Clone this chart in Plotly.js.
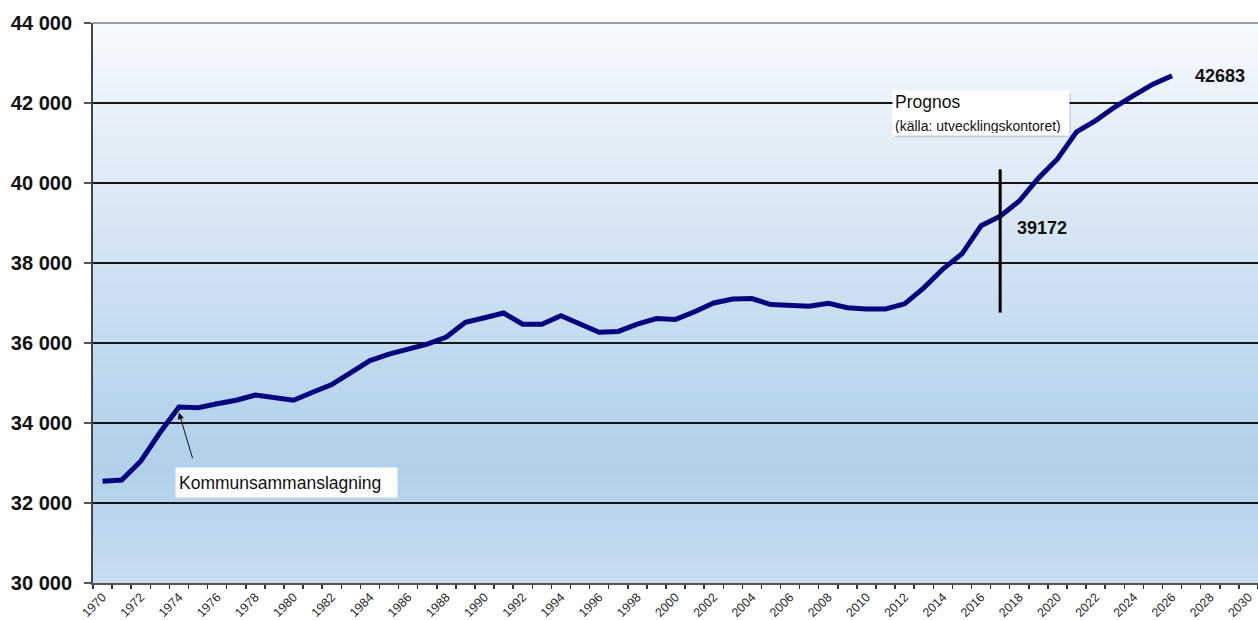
<!DOCTYPE html>
<html>
<head>
<meta charset="utf-8">
<script src="https://cdn.plot.ly/plotly-3.0.1.min.js"></script>
<style>
html,body{margin:0;padding:0;background:#fff;}
#chart{width:1258px;height:620px;}
</style>
</head>
<body>
<div id="chart"></div>
<script>
// ---- data ----
const years = [1970,1971,1972,1973,1974,1975,1976,1977,1978,1979,
               1980,1981,1982,1983,1984,1985,1986,1987,1988,1989,
               1990,1991,1992,1993,1994,1995,1996,1997,1998,1999,
               2000,2001,2002,2003,2004,2005,2006,2007,2008,2009,
               2010,2011,2012,2013,2014,2015,2016,2017,2018,2019,
               2020,2021,2022,2023,2024,2025,2026];
const population = [32545,32575,33045,33755,34400,34380,34480,34570,34700,34640,
                    34570,34770,34960,35260,35560,35720,35850,35970,36150,36520,
                    36630,36750,36470,36470,36680,36470,36270,36290,36470,36610,
                    36590,36780,37000,37100,37110,36960,36950,36920,36990,36880,
                    36850,36850,36980,37380,37850,38230,38930,39172,39550,40120,
                    40600,41280,41560,41900,42190,42470,42683];
const xTickYears = [];
for (let y = 1970; y <= 2030; y += 2) xTickYears.push(y);
const yTicks = [30000,32000,34000,36000,38000,40000,42000,44000];
const yTickText = ["30 000","32 000","34 000","36 000","38 000","40 000","42 000","44 000"];
const splitYear = 2017;
const splitValue = 39172;
const lastYear = 2026;
const lastValue = 42683;
const mergeYear = 1974;
const mergeLabel = "Kommunsammanslagning";
const prognosTitle = "Prognos";
const prognosSource = "(källa: utvecklingskontoret)";

// ---- background gradient as horizontal bands ----
const stops = [
  [0.000, [200,221,241]],
  [0.202, [178,208,234]],
  [0.327, [185,213,237]],
  [0.506, [203,223,241]],
  [0.685, [219,232,245]],
  [0.864, [234,242,250]],
  [1.000, [247,250,253]]
];
function colAt(p){
  for (let i=0;i<stops.length-1;i++){
    const a=stops[i], b=stops[i+1];
    if (p>=a[0] && p<=b[0]){
      const t=(p-a[0])/(b[0]-a[0]);
      const c=a[1].map((v,k)=>Math.round(v+(b[1][k]-v)*t));
      return 'rgb('+c.join(',')+')';
    }
  }
  return 'rgb('+stops[stops.length-1][1].join(',')+')';
}
const shapes = [];
const N = 140;
for (let i=0;i<N;i++){
  const y0=i/N, y1=(i+1)/N + 0.002;
  shapes.push({type:'rect', xref:'paper', yref:'paper', x0:0, x1:1, y0:y0, y1:Math.min(y1,1),
    fillcolor: colAt((i+0.5)/N), line:{width:0}, layer:'below'});
}
// top border
shapes.push({type:'line', xref:'paper', yref:'paper', x0:0, x1:1, y0:1, y1:1,
  line:{color:'#9a9a9a', width:2}, layer:'above'});
// forecast split marker
shapes.push({type:'line', xref:'x', yref:'y', x0:splitYear, x1:splitYear, y0:36760, y1:40340,
  line:{color:'#000', width:3}, layer:'above'});
// soft shadow of prognos box
shapes.push({type:'rect', xref:'paper', yref:'paper', x0:0.6884, x1:0.8395, y0:0.796, y1:0.8748,
  fillcolor:'rgba(0,0,0,0.13)', line:{width:0}, layer:'above'});

const font = "Arial, 'Liberation Sans', sans-serif";

const trace = {
  x: years, y: population, type:'scatter', mode:'lines',
  line:{color:'#05057f', width:5, shape:'linear'},
  hoverinfo:'x+y'
};

const annotations = [
  {xref:'x', yref:'y', x:splitYear, y:38880, text:String(splitValue), showarrow:false,
   xanchor:'left', yanchor:'middle', xshift:15, font:{family:font, size:18, color:'#111', weight:'bold'}},
  {xref:'x', yref:'y', x:lastYear, y:lastValue, text:String(lastValue), showarrow:false,
   xanchor:'left', yanchor:'middle', xshift:21, font:{family:font, size:18, color:'#111', weight:'bold'}},
  {xref:'paper', yref:'paper', x:0.6858, y:0.880, xanchor:'left', yanchor:'top', align:'left',
   text: prognosTitle + "<br><span style='font-size:14px'>" + prognosSource + "</span>",
   showarrow:false, bgcolor:'#ffffff', borderpad:2, width:172, height:40,
   font:{family:font, size:17.5, color:'#111'}},
  {xref:'paper', yref:'paper', x:0.0704, y:0.2075, xanchor:'left', yanchor:'top', align:'left',
   text: mergeLabel, showarrow:false, bgcolor:'#ffffff', borderpad:3, width:215, height:23,
   font:{family:font, size:17.5, color:'#111'}},
  {xref:'x', yref:'y', x:mergeYear, y:34260, text:'', showarrow:true,
   ax:14, ay:47, arrowhead:2, arrowsize:1.3, arrowwidth:1, arrowcolor:'#111', standoff:0}
];

const layout = {
  width:1258, height:620,
  margin:{l:93, r:0, t:23, b:37},
  paper_bgcolor:'#ffffff',
  plot_bgcolor:'#cfe1f2',
  showlegend:false,
  xaxis:{
    range:[1969.5, 2030.5], tickmode:'array', tickvals:xTickYears,
    ticktext:xTickYears.map(String), ticks:'', tickangle:-45,
    tickfont:{family:font, size:12.5, color:'#2a2a2a'},
    showgrid:false, zeroline:false, showline:true, linecolor:'#555', linewidth:2,
    minor:{tick0:1969.5, dtick:1, ticks:'outside', ticklen:4, tickcolor:'#333', tickwidth:1.5, showgrid:false},
    fixedrange:true
  },
  yaxis:{
    range:[30000, 44000], tickmode:'array', tickvals:yTicks, ticktext:yTickText,
    ticks:'outside', ticklen:7, tickcolor:'#555', tickwidth:1.5,
    tickfont:{family:font, size:20, color:'#111', weight:'bold'},
    showgrid:true, gridcolor:'#151515', gridwidth:1.5,
    zeroline:false, showline:true, linecolor:'#444', linewidth:2,
    ticklabelstandoff:8, fixedrange:true
  },
  shapes:shapes,
  annotations:annotations
};

Plotly.newPlot('chart', [trace], layout, {displayModeBar:false, staticPlot:true});
</script>
</body>
</html>
